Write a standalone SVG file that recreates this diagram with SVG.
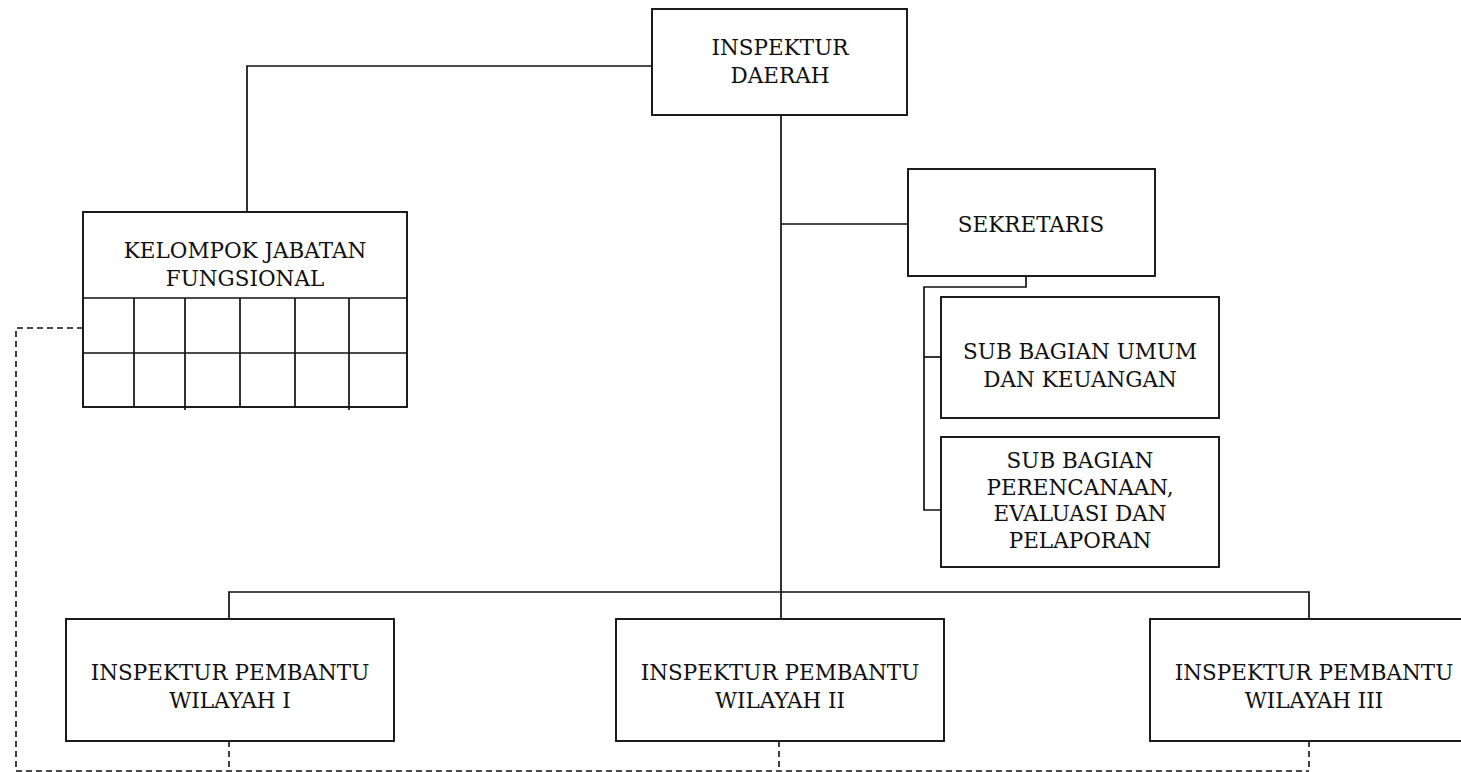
<svg xmlns="http://www.w3.org/2000/svg" width="1461" height="772" viewBox="0 0 1461 772">
<style>
.box{fill:#fff;stroke:#111;stroke-width:1.9}
.ln{fill:none;stroke:#111;stroke-width:1.7}
.dash{fill:none;stroke:#111;stroke-width:1.6;stroke-dasharray:6 4}
.t{font-family:"DejaVu Serif","Liberation Serif",serif;font-size:21.5px;fill:#111;text-anchor:middle}
</style>
<rect width="1461" height="772" fill="#fff"/>
<g id="connectors">
<polyline class="ln" points="652,66 247,66 247,212"/>
<line class="ln" x1="781" y1="115" x2="781" y2="592"/>
<line class="ln" x1="781" y1="224" x2="908" y2="224"/>
<polyline class="ln" points="1026,276 1026,287 924,287 924,510 941,510"/>
<line class="ln" x1="924" y1="357" x2="941" y2="357"/>
<polyline class="ln" points="229,619 229,592 1309,592 1309,619"/>
<line class="ln" x1="781" y1="592" x2="781" y2="619"/>
<polyline class="dash" points="83,328 16,328 16,771 1309,771"/>
<line class="dash" x1="229" y1="741" x2="229" y2="771"/>
<line class="dash" x1="779" y1="741" x2="779" y2="771"/>
<line class="dash" x1="1309" y1="741" x2="1309" y2="771"/>
</g>
<g id="inspektur-daerah">
<rect class="box" x="652" y="9" width="255" height="106"/>
<text class="t" x="780" y="55">INSPEKTUR</text>
<text class="t" x="780" y="83">DAERAH</text>
</g>
<g id="kelompok-jabatan">
<rect class="box" x="83" y="212" width="324" height="195"/>
<line class="ln" x1="83" y1="298" x2="407" y2="298"/>
<line class="ln" x1="83" y1="353" x2="407" y2="353"/>
<line class="ln" x1="134" y1="298" x2="134" y2="407"/>
<line class="ln" x1="185" y1="298" x2="185" y2="410"/>
<line class="ln" x1="240" y1="298" x2="240" y2="407"/>
<line class="ln" x1="295" y1="298" x2="295" y2="407"/>
<line class="ln" x1="349" y1="298" x2="349" y2="410"/>
<text class="t" x="245" y="258">KELOMPOK JABATAN</text>
<text class="t" x="245" y="286">FUNGSIONAL</text>
</g>
<g id="sekretaris">
<rect class="box" x="908" y="169" width="247" height="107"/>
<text class="t" x="1031" y="232">SEKRETARIS</text>
</g>
<g id="sub-umum">
<rect class="box" x="941" y="297" width="278" height="121"/>
<text class="t" x="1080" y="359">SUB BAGIAN UMUM</text>
<text class="t" x="1080" y="387">DAN KEUANGAN</text>
</g>
<g id="sub-perencanaan">
<rect class="box" x="941" y="437" width="278" height="130"/>
<text class="t" x="1080" y="468">SUB BAGIAN</text>
<text class="t" x="1080" y="494.5">PERENCANAAN,</text>
<text class="t" x="1080" y="521">EVALUASI DAN</text>
<text class="t" x="1080" y="548">PELAPORAN</text>
</g>
<g id="ipw1">
<rect class="box" x="66" y="619" width="328" height="122"/>
<text class="t" x="230" y="680">INSPEKTUR PEMBANTU</text>
<text class="t" x="230" y="708">WILAYAH I</text>
</g>
<g id="ipw2">
<rect class="box" x="616" y="619" width="328" height="122"/>
<text class="t" x="780" y="680">INSPEKTUR PEMBANTU</text>
<text class="t" x="780" y="708">WILAYAH II</text>
</g>
<g id="ipw3">
<rect class="box" x="1150" y="619" width="330" height="122"/>
<text class="t" x="1314" y="680">INSPEKTUR PEMBANTU</text>
<text class="t" x="1314" y="708">WILAYAH III</text>
</g>
</svg>
